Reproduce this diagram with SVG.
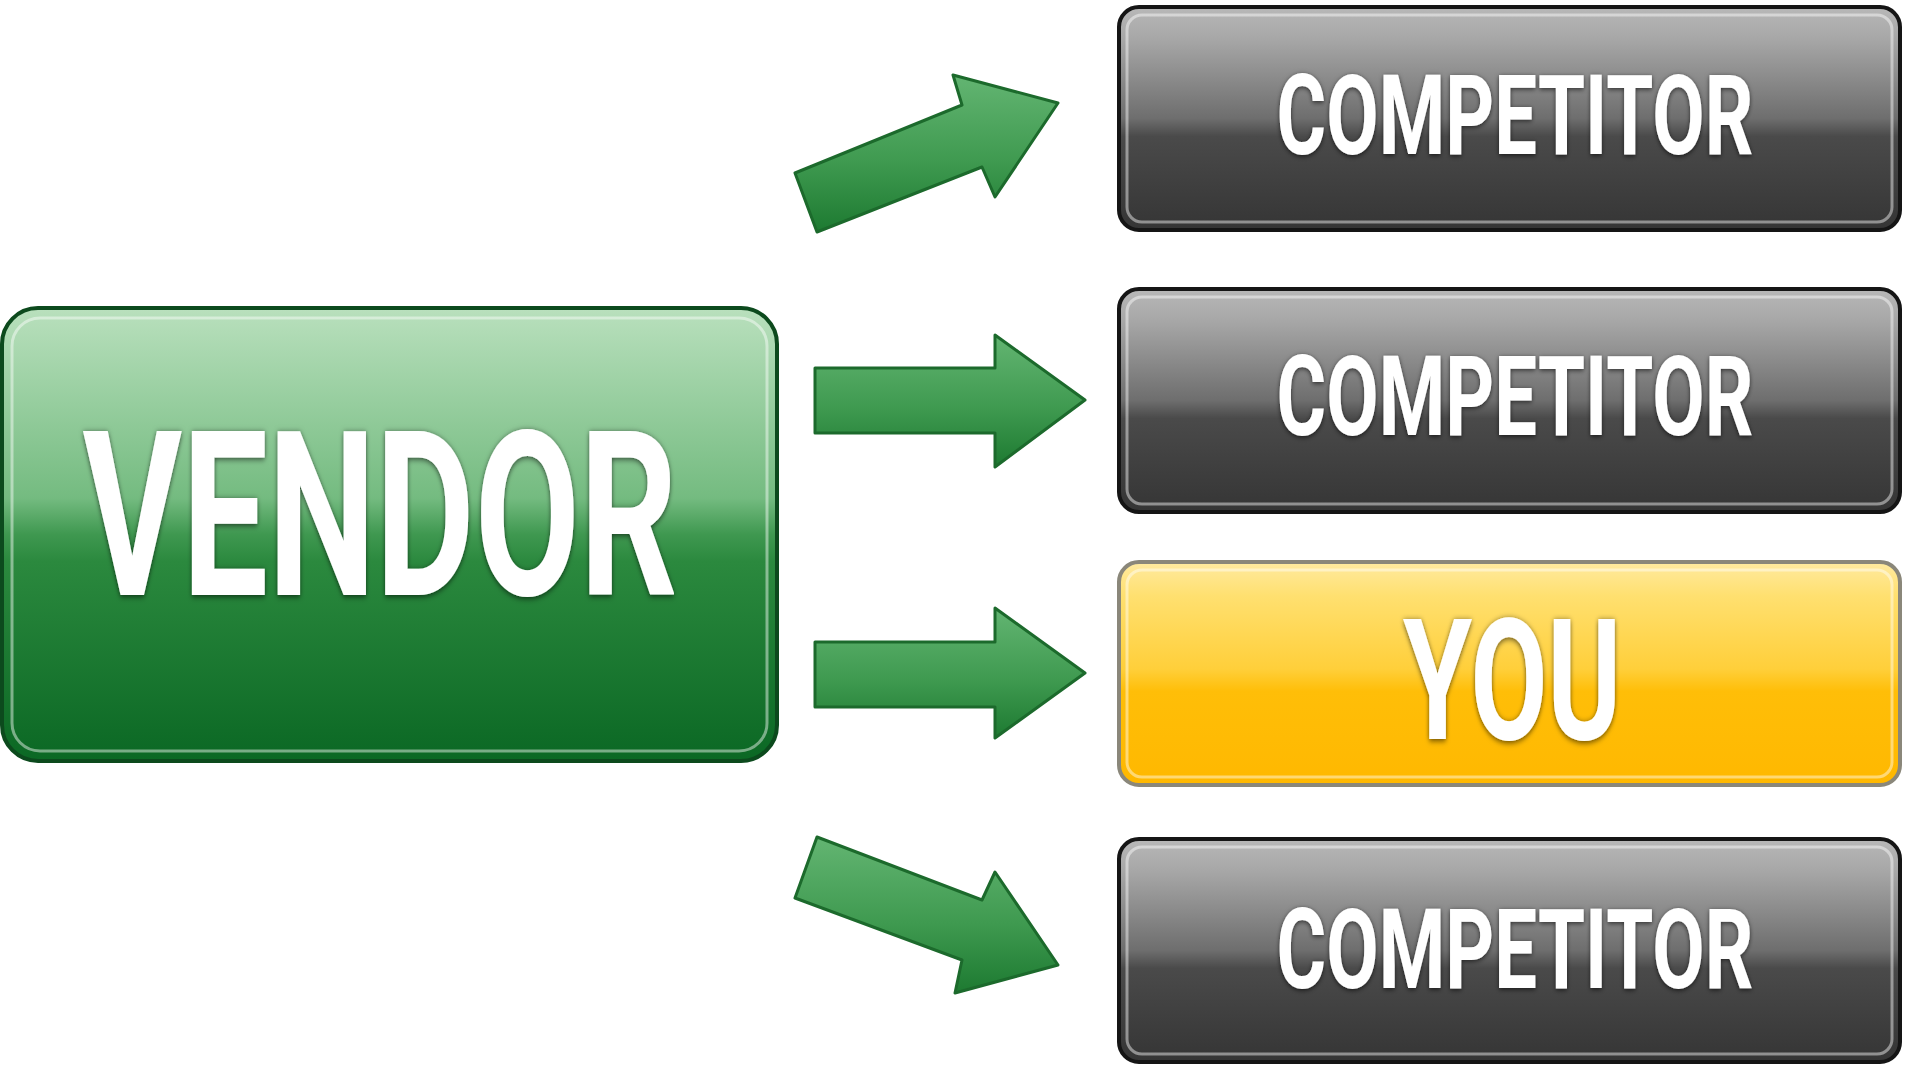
<svg xmlns="http://www.w3.org/2000/svg" width="1905" height="1067" viewBox="0 0 1905 1067">
  <defs>
    <linearGradient id="gVendor" x1="0" y1="0" x2="0" y2="1">
      <stop offset="0" stop-color="#b9e0bd"/>
      <stop offset="0.42" stop-color="#74bb80"/>
      <stop offset="0.5" stop-color="#3f9850"/>
      <stop offset="0.56" stop-color="#2b893e"/>
      <stop offset="1" stop-color="#0b6824"/>
    </linearGradient>
    <linearGradient id="gComp" x1="0" y1="0" x2="0" y2="1">
      <stop offset="0" stop-color="#b8b8b8"/>
      <stop offset="0.15" stop-color="#a6a6a6"/>
      <stop offset="0.5" stop-color="#6e6e6e"/>
      <stop offset="0.58" stop-color="#4a4a4a"/>
      <stop offset="1" stop-color="#353535"/>
    </linearGradient>
    <linearGradient id="gYou" x1="0" y1="0" x2="0" y2="1">
      <stop offset="0" stop-color="#ffeaa0"/>
      <stop offset="0.15" stop-color="#ffe070"/>
      <stop offset="0.48" stop-color="#ffcf3a"/>
      <stop offset="0.58" stop-color="#ffbe08"/>
      <stop offset="1" stop-color="#ffb800"/>
    </linearGradient>
    <linearGradient id="gArrow" x1="0" y1="0" x2="0" y2="1">
      <stop offset="0" stop-color="#63b572"/>
      <stop offset="0.55" stop-color="#3f9a50"/>
      <stop offset="1" stop-color="#1d7a31"/>
    </linearGradient>
    <filter id="txtShadow" x="-10%" y="-20%" width="120%" height="140%">
      <feDropShadow dx="0" dy="1" stdDeviation="2" flood-color="#000" flood-opacity="0.65"/>
    </filter>
  </defs>
  <style>
    .lbl { font-family: Roboto, "Liberation Sans", sans-serif; font-weight: bold; fill: #ffffff; text-anchor: middle; }
    .rim { fill: none; stroke: #ffffff; stroke-opacity: 0.45; stroke-width: 3; }
    .arrow { fill: url(#gArrow); stroke: #1c6a2c; stroke-width: 3; stroke-linejoin: round; }
  </style>
  <rect width="1905" height="1067" fill="#ffffff"/>

  <g id="vendor">
    <rect x="2" y="308" width="775" height="453" rx="36" fill="url(#gVendor)" stroke="#0c4a1d" stroke-width="4"/>
    <rect x="12" y="318" width="755" height="433" rx="28" class="rim"/>
    <text class="lbl" transform="translate(380,595) scale(1,1.5)" x="0" y="0" font-size="153" textLength="595" lengthAdjust="spacingAndGlyphs" filter="url(#txtShadow)">VENDOR</text>
  </g>

  <g id="competitor1">
    <rect x="1119" y="7" width="781" height="223" rx="20" fill="url(#gComp)" stroke="#151515" stroke-width="4"/>
    <rect x="1127" y="15" width="765" height="207" rx="15" class="rim"/>
    <text class="lbl" transform="translate(1515,154) scale(1,1.45)" x="0" y="0" font-size="77" textLength="477" lengthAdjust="spacingAndGlyphs" filter="url(#txtShadow)">COMPETITOR</text>
  </g>

  <g id="competitor2">
    <rect x="1119" y="289" width="781" height="223" rx="20" fill="url(#gComp)" stroke="#151515" stroke-width="4"/>
    <rect x="1127" y="297" width="765" height="207" rx="15" class="rim"/>
    <text class="lbl" transform="translate(1515,435) scale(1,1.45)" x="0" y="0" font-size="77" textLength="477" lengthAdjust="spacingAndGlyphs" filter="url(#txtShadow)">COMPETITOR</text>
  </g>

  <g id="you">
    <rect x="1119" y="562" width="781" height="223" rx="20" fill="url(#gYou)" stroke="#8a877a" stroke-width="4"/>
    <rect x="1127" y="570" width="765" height="207" rx="15" class="rim"/>
    <text class="lbl" transform="translate(1512,739) scale(1,1.53)" x="0" y="0" font-size="111" textLength="218" lengthAdjust="spacingAndGlyphs" filter="url(#txtShadow)">YOU</text>
  </g>

  <g id="competitor3">
    <rect x="1119" y="839" width="781" height="223" rx="20" fill="url(#gComp)" stroke="#151515" stroke-width="4"/>
    <rect x="1127" y="847" width="765" height="207" rx="15" class="rim"/>
    <text class="lbl" transform="translate(1515,988) scale(1,1.45)" x="0" y="0" font-size="77" textLength="477" lengthAdjust="spacingAndGlyphs" filter="url(#txtShadow)">COMPETITOR</text>
  </g>

  <g id="connectors">
    <polygon class="arrow" points="795,173 962,105 953,75 1058,103 995,197 982,167 817,232"/>
    <polygon class="arrow" points="815,368 995,368 995,335 1085,400 995,467 995,433 815,433"/>
    <polygon class="arrow" points="815,642 995,642 995,608 1085,673 995,738 995,707 815,707"/>
    <polygon class="arrow" points="817,837 982,900 995,872 1058,965 955,993 962,960 795,898"/>
  </g>
</svg>
